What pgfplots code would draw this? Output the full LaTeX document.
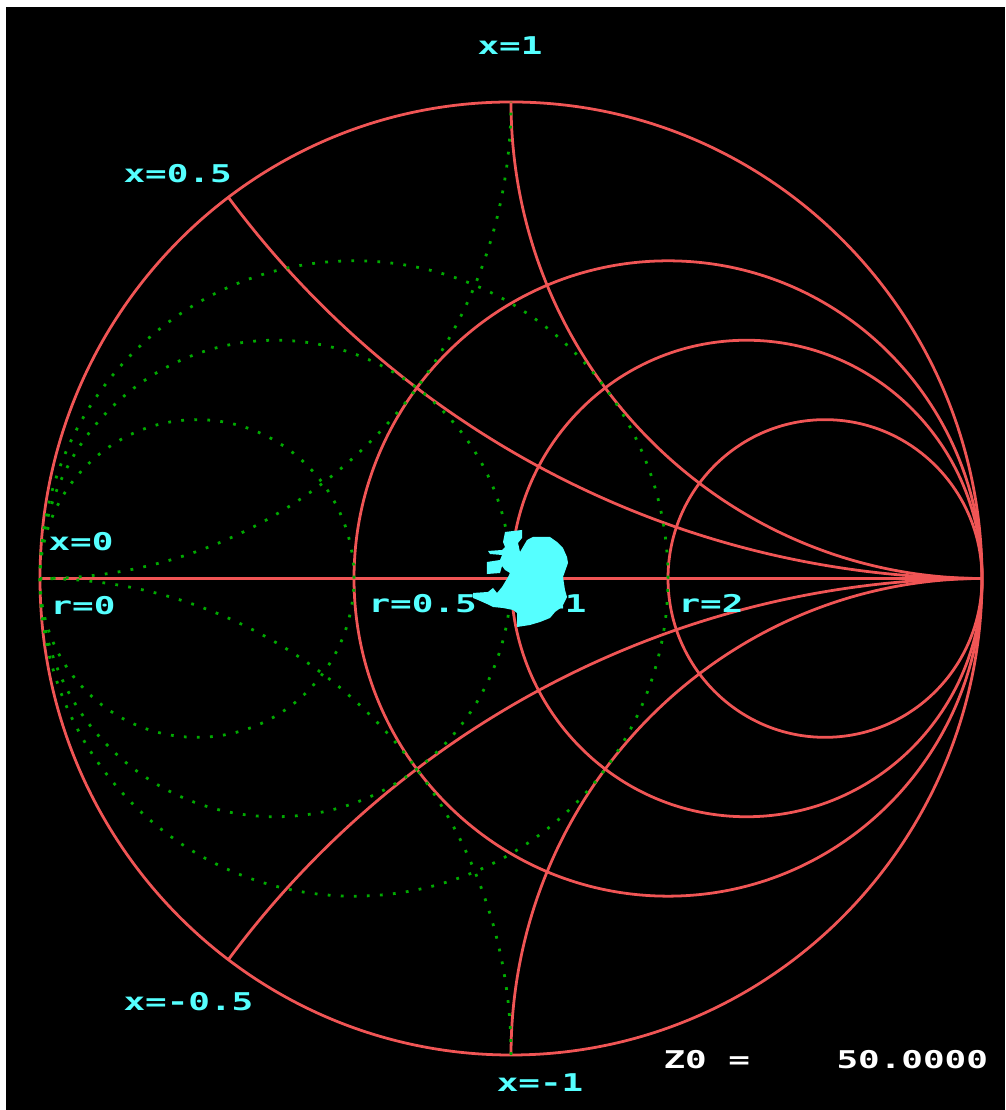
\documentclass[border=0pt]{standalone}
\usepackage{pgfplots}
\pgfplotsset{compat=1.18}
\usepackage{fontspec}
\usepackage{graphicx}
\newfontfamily\pixfont{DejaVu Sans Mono}
\definecolor{gridred}{RGB}{240,85,85}
\definecolor{admgreen}{RGB}{0,170,0}
\definecolor{tracecyan}{RGB}{85,255,255}
% wide terminal-style lettering
\newcommand{\lab}[1]{\scalebox{1.47}[1]{\pixfont\bfseries\fontsize{8.8}{10}\selectfont #1}}

\begin{document}
\begin{tikzpicture}
\begin{axis}[
  x=169.56pt, y=171.54pt,
  xmin=-1.08493, xmax=1.04883, ymin=-1.11542, ymax=1.21406,
  hide axis, clip=true,
]
% screen
\fill[white] (rel axis cs:0,0) rectangle (rel axis cs:1,1);
\fill[black] (axis cs:-1.07219,1.19937) rectangle (rel axis cs:1,0);

% impedance grid (reflection-coefficient plane)
\begin{scope}[gridred, line width=1pt]
  \draw (axis cs:0,0) circle[radius=1];
  \draw (axis cs:-1,0) -- (axis cs:1,0);
  \draw (axis cs:1/3,0) circle[radius=2/3];
  \draw (axis cs:0.5,0) circle[radius=0.5];
  \draw (axis cs:2/3,0) circle[radius=1/3];
  \begin{scope}
    \clip (axis cs:0,0) circle[radius=1];
    \draw (axis cs:1,1) circle[radius=1];
    \draw (axis cs:1,-1) circle[radius=1];
    \draw (axis cs:1,2) circle[radius=2];
    \draw (axis cs:1,-2) circle[radius=2];
  \end{scope}
\end{scope}

% admittance grid, dotted
\begin{scope}[admgreen, line width=1pt, dash pattern=on 1pt off 3.7pt]
  \draw (axis cs:-1/3,0) circle[radius=2/3];
  \draw (axis cs:-0.5,0) circle[radius=0.5];
  \draw (axis cs:-2/3,0) circle[radius=1/3];
  \begin{scope}
    \clip (axis cs:0,0) circle[radius=1];
    \draw (axis cs:-1,1) circle[radius=1];
    \draw (axis cs:-1,-1) circle[radius=1];
  \end{scope}
\end{scope}

\node[inner sep=0pt, text=tracecyan, anchor=base east] at (axis cs:0.1614,-0.0724) {\lab{r=1}};

% measured impedance trace
\addplot[fill=tracecyan, draw=none] coordinates {
  (-0.0127,0.0976) (0.0234,0.1018) (0.0234,0.0850) (0.0149,0.0745)
  (0.0191,0.0556) (0.0340,0.0808) (0.0467,0.0871) (0.0828,0.0871)
  (0.0977,0.0766) (0.1104,0.0640) (0.1189,0.0451) (0.1210,0.0325)
  (0.1104,0.0031) (0.1146,-0.0241) (0.1189,-0.0388) (0.1083,-0.0598)
  (0.0934,-0.0703) (0.0828,-0.0829) (0.0616,-0.0913) (0.0403,-0.0976)
  (0.0127,-0.1018) (0.0127,-0.0724) (0.0042,-0.0661) (-0.0170,-0.0619)
  (-0.0382,-0.0598) (-0.0510,-0.0535) (-0.0701,-0.0451) (-0.0807,-0.0409)
  (-0.0807,-0.0304) (-0.0488,-0.0283) (-0.0382,-0.0199) (-0.0297,-0.0304)
  (-0.0191,-0.0178) (-0.0127,-0.0073) (-0.0064,0.0031) (-0.0021,0.0115)
  (-0.0127,0.0178) (-0.0191,0.0262) (-0.0234,0.0115) (-0.0510,0.0094)
  (-0.0510,0.0346) (-0.0234,0.0388) (-0.0191,0.0493) (-0.0446,0.0514)
  (-0.0488,0.0577) (-0.0191,0.0598) (-0.0127,0.0661) (-0.0170,0.0766)
} -- cycle;

% grid labels
\begin{scope}[every node/.style={inner sep=0pt, text=tracecyan}]
\node[anchor=base] at (axis cs:-0.0021,1.0986) {\lab{x=1}};
\node[anchor=base west] at (axis cs:-0.8238,0.8300) {\lab{x=0.5}};
\node[anchor=base west] at (axis cs:-0.9830,0.0577) {\lab{x=0}};
\node[anchor=base west] at (axis cs:-0.9788,-0.0766) {\lab{r=0}};
\node[anchor=base west] at (axis cs:-0.3036,-0.0724) {\lab{r=0.5}};
\node[anchor=base west] at (axis cs:0.3546,-0.0724) {\lab{r=2}};
\node[anchor=base west] at (axis cs:-0.8238,-0.9056) {\lab{x=-0.5}};
\node[anchor=base] at (axis cs:0.0616,-1.0756) {\lab{x=-1}};
\end{scope}

% reference impedance
\node[inner sep=0pt, text=white, anchor=base west] at (axis cs:0.3227,-1.0273) {\lab{Z0 =}};
\node[inner sep=0pt, text=white, anchor=base west] at (axis cs:0.6900,-1.0273) {\lab{50.0000}};
\end{axis}
\end{tikzpicture}
\end{document}
